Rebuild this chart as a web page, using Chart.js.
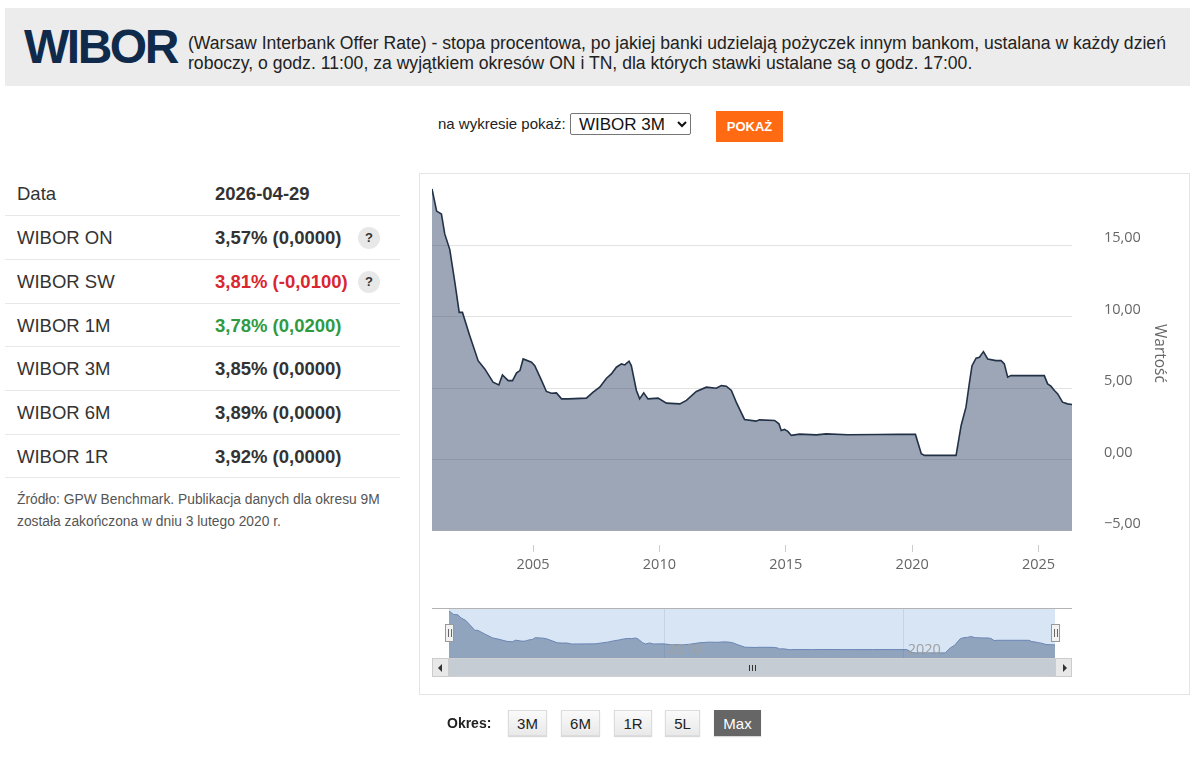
<!DOCTYPE html>
<html lang="pl">
<head>
<meta charset="utf-8">
<title>WIBOR</title>
<script src="https://cdn.jsdelivr.net/npm/chart.js@4.4.1/dist/chart.umd.min.js"></script>
<style>
html,body{margin:0;padding:0;background:#fff;}
body{width:1200px;height:757px;position:relative;overflow:hidden;font-family:"Liberation Sans",Arial,sans-serif;color:#333;}
.abs{position:absolute;}
#header{left:5px;top:8px;width:1185px;height:78px;background:#ececec;}
#logo{left:24px;top:19px;font-size:48px;font-weight:bold;color:#102a4c;letter-spacing:-2.5px;line-height:56px;}
#desc{left:188px;top:33px;font-size:17.6px;line-height:20px;color:#222;white-space:nowrap;}
#pick{left:438px;top:114px;font-size:15px;line-height:20px;color:#222;white-space:nowrap;}
#sel{left:570px;top:113px;width:121px;height:22px;font-size:17px;font-family:"Liberation Sans",Arial,sans-serif;border:1px solid #767676;border-radius:2px;background:#fff;color:#111;padding:0 0 0 4px;box-sizing:border-box;}
#btn{left:716px;top:111px;width:67px;height:31px;background:#ff6a13;color:#fff;font-weight:bold;font-size:13px;line-height:31px;text-align:center;}
#table{left:5px;top:172px;width:395px;}
.row{position:relative;border-bottom:1px solid #e8e8e8;box-sizing:border-box;font-size:18.5px;}
.row .lab{position:absolute;left:12px;top:0;}
.row .val{position:absolute;left:210px;top:0;font-weight:bold;}
.row .q{position:absolute;left:353px;width:22px;height:22px;border-radius:11px;background:#e8e8e8;font-weight:bold;font-size:13px;line-height:22px;text-align:center;color:#333;}
#src{left:17px;top:489px;font-size:13.8px;line-height:22px;color:#555;white-space:nowrap;}
#box{left:419px;top:173px;width:771px;height:522px;border:1px solid #e4e4e4;box-sizing:border-box;}
#mainWrap{left:419px;top:173px;width:771px;height:400px;}
#navWrap{left:432px;top:600px;width:640px;height:58px;}
#navTop{left:432px;top:608px;width:640px;height:1px;background:#b3b3b3;}
.handle{top:624px;width:9px;height:18px;background:#f2f2f2;border:1px solid #999;box-sizing:border-box;}
.handle i{position:absolute;top:4px;width:1px;height:8px;background:#666;}
#track{left:432px;top:658px;width:640px;height:19px;background:#f2f2f2;border:1px solid #d0d0d0;box-sizing:border-box;}
#thumb{left:449px;top:659px;width:606px;height:17px;background:#c6ccd4;}
.grip{top:665px;width:1px;height:6px;background:#333;}
.arrow{top:658px;width:17px;height:19px;background:#e8e8e8;border:1px solid #ccc;box-sizing:border-box;}
.tri{width:0;height:0;border-top:4px solid transparent;border-bottom:4px solid transparent;}
#okres{left:447px;top:714px;font-size:14px;font-weight:bold;color:#222;line-height:18px;}
.pb{top:710px;height:26px;line-height:26px;font-size:15px;text-align:center;color:#222;background:linear-gradient(#fafafa,#e9e9e9);border:1px solid #dcdcdc;box-sizing:border-box;box-shadow:0 1px 1px rgba(0,0,0,0.15);}
.pb.on{background:#666;color:#fff;border-color:#666;}
</style>
</head>
<body>
<div id="header" class="abs"></div>
<div id="logo" class="abs">WIBOR</div>
<div id="desc" class="abs">(Warsaw Interbank Offer Rate) - stopa procentowa, po jakiej banki udzielają pożyczek innym bankom, ustalana w każdy dzień<br>roboczy, o godz. 11:00, za wyjątkiem okresów ON i TN, dla których stawki ustalane są o godz. 17:00.</div>
<div id="pick" class="abs">na wykresie pokaż:</div>
<select id="sel" class="abs"><option>WIBOR 3M</option></select>
<div id="btn" class="abs">POKAŻ</div>
<div id="table" class="abs"></div>
<div id="src" class="abs">Źródło: GPW Benchmark. Publikacja danych dla okresu 9M<br>została zakończona w dniu 3 lutego 2020 r.</div>

<div id="box" class="abs"></div>
<div id="mainWrap" class="abs"><canvas id="main"></canvas></div>
<div id="navTop" class="abs"></div>
<div id="navWrap" class="abs"><canvas id="nav"></canvas></div>
<div id="track" class="abs"></div>
<div id="thumb" class="abs"></div>
<div class="abs grip" style="left:749px"></div>
<div class="abs grip" style="left:752px"></div>
<div class="abs grip" style="left:755px"></div>
<div class="abs arrow" style="left:432px"><div class="abs tri" style="left:5px;top:5px;border-right:4px solid #333;"></div></div>
<div class="abs arrow" style="left:1055px"><div class="abs tri" style="left:7px;top:5px;border-left:4px solid #333;"></div></div>
<div class="abs handle" style="left:445px"><i style="left:2px"></i><i style="left:5px"></i></div>
<div class="abs handle" style="left:1051px"><i style="left:2px"></i><i style="left:5px"></i></div>

<div id="okres" class="abs">Okres:</div>
<div class="abs pb" style="left:508px;width:39px">3M</div>
<div class="abs pb" style="left:561px;width:39px">6M</div>
<div class="abs pb" style="left:614px;width:38px">1R</div>
<div class="abs pb" style="left:665px;width:35px">5L</div>
<div class="abs pb on" style="left:714px;width:47px">Max</div>

<script>
// ---- table data ----
const rateNames = ['WIBOR ON','WIBOR SW','WIBOR 1M','WIBOR 3M','WIBOR 6M','WIBOR 1R'];
const rateValues = ['3,57%','3,81%','3,78%','3,85%','3,89%','3,92%'];
const rateChanges = ['0,0000','-0,0100','0,0200','0,0000','0,0000','0,0000'];
const rateHelp = [true,true,false,false,false,false];
const quoteDate = '2026-04-29';

// ---- chart data: WIBOR 3M ----
const dates = [
 '2001-01-02','2001-03-10','2001-05-18','2001-07-05','2001-09-16','2001-11-28',
 '2002-01-30','2002-03-18','2002-07-01','2002-10-30',
 '2003-02-03','2003-06-03','2003-08-25','2003-10-16',
 '2004-01-08','2004-03-10','2004-05-08','2004-06-25','2004-08-11','2004-12-10',
 '2005-01-26','2005-05-05','2005-07-13','2005-09-24','2005-12-05',
 '2006-02-17','2006-05-23','2007-02-10','2007-05-19','2007-08-22','2007-11-28',
 '2008-02-06','2008-04-19','2008-07-01','2008-08-18','2008-10-19','2008-11-21',
 '2009-02-03','2009-03-22','2009-05-19','2009-07-20','2009-12-13',
 '2010-04-12','2010-10-23','2011-01-26','2011-06-18','2011-11-10',
 '2012-04-01','2012-06-13','2012-08-25','2012-11-06',
 '2013-01-15','2013-05-15','2013-10-30','2013-12-16',
 '2014-07-24','2014-09-24','2014-10-27','2014-12-13',
 '2015-01-30','2015-03-22','2015-07-20','2016-03-17','2016-08-07',
 '2017-06-15','2018-09-10','2019-06-20',
 '2020-02-17','2020-05-12','2020-06-28','2021-09-27','2021-12-09',
 '2022-02-17','2022-04-09','2022-05-15','2022-07-13','2022-08-30','2022-10-27','2022-12-28',
 '2023-04-28','2023-07-09','2023-08-25','2023-10-12','2023-11-28',
 '2025-03-25','2025-05-12','2025-06-28','2025-08-18','2025-10-05','2025-12-13',
 '2026-02-24','2026-04-29'
];
const wibor3m = [
 18.95,17.4,17.2,15.8,14.7,12.4,
 10.3,10.3,8.67,6.92,
 6.34,5.41,5.22,5.92,
 5.52,5.52,6.06,6.22,7.04,6.81,
 6.57,5.52,4.76,4.64,4.66,
 4.24,4.24,4.29,4.71,5.06,5.69,
 5.99,6.46,6.69,6.62,6.88,6.57,
 4.83,4.24,4.66,4.24,4.29,
 3.94,3.89,4.13,4.76,5.06,
 4.99,5.17,5.13,4.83,
 4.01,2.80,2.68,2.77,
 2.73,2.49,2.03,2.10,
 1.96,1.68,1.77,1.72,1.79,
 1.73,1.74,1.75,
 1.75,0.40,0.28,0.28,2.38,
 3.66,5.41,6.57,7.09,7.16,7.55,7.04,
 6.92,6.92,6.69,5.76,5.87,
 5.87,5.29,5.13,4.83,4.59,4.01,
 3.89,3.85
];
const xTicks = [2005,2010,2015,2020,2025];
const yTicks = [-5,0,5,10,15];
const navTicks = [2010,2020];

// ---- table ----
(function(){
  const t = document.getElementById('table');
  const heights = [44,44,44,43,44,44,43];
  let html = '<div class="row" style="height:'+heights[0]+'px;line-height:'+heights[0]+'px"><span class="lab">Data</span><span class="val">'+quoteDate+'</span></div>';
  rateNames.forEach((n,i)=>{
    const h = heights[i+1];
    const ch = rateChanges[i];
    const col = ch.startsWith('-') ? '#d9262f' : (ch !== '0,0000' ? '#2f9a41' : '#333');
    html += '<div class="row" style="height:'+h+'px;line-height:'+h+'px"><span class="lab">'+n+'</span><span class="val" style="color:'+col+'">'+rateValues[i]+' ('+ch+')</span>'+
      (rateHelp[i] ? '<span class="q" style="top:'+((h-22)/2)+'px">?</span>' : '')+'</div>';
  });
  t.innerHTML = html;
})();

// ---- chart ----
function toYear(s){
  const p = s.split('-').map(Number);
  const a = Date.UTC(p[0],0,1), b = Date.UTC(p[0]+1,0,1);
  return p[0] + (Date.UTC(p[0],p[1]-1,p[2]) - a)/(b - a);
}
const points = dates.map((d,i)=>({x:toYear(d), y:wibor3m[i]}));
const xMin = points[0].x, xMax = points[points.length-1].x;
const tickFont = {family:'"Open Sans", "DejaVu Sans", sans-serif', size:14.5};

new Chart(document.getElementById('main'), {
  type:'line',
  data:{datasets:[{
    data:points, borderColor:'#233147', borderWidth:1.6,
    backgroundColor:'rgba(48,70,102,0.48)', fill:{target:{value:-5}},
    pointRadius:0, tension:0
  }]},
  options:{
    responsive:true, maintainAspectRatio:false, animation:false,
    layout:{padding:{left:13, top:1, right:0, bottom:0}},
    plugins:{legend:{display:false}, tooltip:{enabled:false}},
    scales:{
      x:{type:'linear', min:xMin, max:xMax,
        afterBuildTicks:s=>{ s.ticks = xTicks.map(v=>({value:v})); },
        afterFit:s=>{ s.height = 28; s.paddingLeft = 0; s.paddingRight = 0; },
        grid:{drawOnChartArea:false, drawTicks:true, tickLength:7, tickColor:'#cccccc'},
        border:{display:false},
        ticks:{color:'#666', font:tickFont, padding:4, maxRotation:0, autoSkip:false, callback:v=>String(v)}
      },
      y:{position:'right', min:-6, max:20,
        afterBuildTicks:s=>{ s.ticks = yTicks.map(v=>({value:v})); },
        afterFit:s=>{ s.width = 118; s.paddingTop = 0; s.paddingBottom = 0; },
        grid:{color:'#e3e3e3', drawTicks:false},
        border:{display:false},
        ticks:{color:'#666', font:tickFont, padding:32, labelOffset:-7,
          callback:v=>v.toFixed(2).replace('.',',').replace('-','\u2212')},
        title:{display:true, text:'Wartość   ', color:'#666', font:{family:'"Open Sans", "DejaVu Sans", sans-serif', size:15.5}, padding:{top:21,bottom:0}}
      }
    }
  }
});

// ---- navigator ----
const navPlugin = {
  id:'navDecor',
  beforeDraw(chart){
    const a = chart.chartArea, c = chart.ctx;
    c.save(); c.fillStyle = '#d8e5f5'; c.fillRect(a.left, a.top, a.right-a.left, a.bottom-a.top); c.restore();
  },
  afterDraw(chart){
    const a = chart.chartArea, c = chart.ctx, s = chart.scales.x;
    c.save(); c.fillStyle = '#a0a0a0'; c.font = '14.5px "Open Sans", "DejaVu Sans", sans-serif';
    c.textBaseline = 'alphabetic'; c.textAlign = 'left';
    navTicks.forEach(v=>{ c.fillText(String(v), s.getPixelForValue(v)+4, a.bottom-4); });
    c.restore();
  }
};
new Chart(document.getElementById('nav'), {
  type:'line',
  data:{datasets:[{
    data:points, borderColor:'#6a86b3', borderWidth:1,
    backgroundColor:'rgba(60,85,125,0.45)', fill:'start',
    pointRadius:0, tension:0
  }]},
  options:{
    responsive:true, maintainAspectRatio:false, animation:false,
    layout:{padding:{left:17, right:17, top:9, bottom:0}},
    plugins:{legend:{display:false}, tooltip:{enabled:false}},
    scales:{
      x:{type:'linear', min:xMin, max:xMax,
        afterBuildTicks:s=>{ s.ticks = navTicks.map(v=>({value:v})); },
        afterFit:s=>{ s.height = 0; s.paddingLeft = 0; s.paddingRight = 0; },
        grid:{color:'#c4d3e6', drawTicks:false}, border:{display:false},
        ticks:{display:false}
      },
      y:{display:false, min:-2, max:19.8}
    }
  },
  plugins:[navPlugin]
});
</script>
</body>
</html>
